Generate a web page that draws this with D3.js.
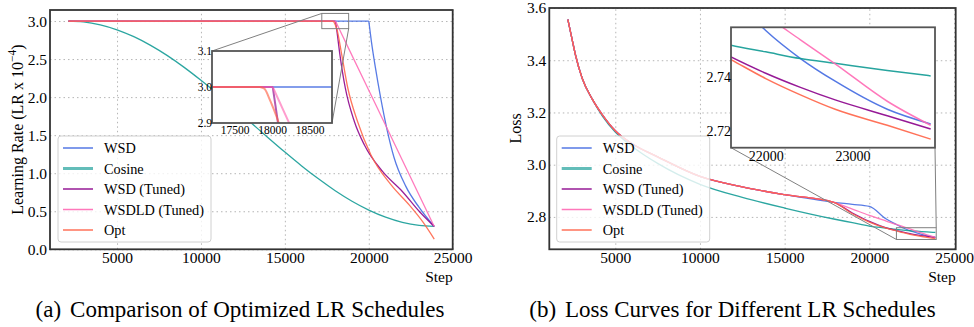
<!DOCTYPE html>
<html>
<head>
<meta charset="utf-8">
<script src="https://cdn.jsdelivr.net/npm/d3@7"></script>
<style>
  body { margin: 0; background: #fff; }
  svg text { font-family: "Liberation Serif", "Times New Roman", serif !important; fill: #000; }
  .grid line { stroke: #b5b5b5; stroke-dasharray: 1.5 3; }
  .grid .domain { display: none; }
</style>
</head>
<body>
<svg id="fig" width="974" height="327"></svg>
<script>
// ---- data ----
const seriesNames = ["WSD", "Cosine", "WSD (Tuned)", "WSDLD (Tuned)", "Opt"];
const seriesColors = ["#4169e1", "#0f9a94", "#8b008b", "#ff69b4", "#ff6347"];

// learning rate (x 1e-4) vs step
const wsdLrSteps = [2100, 20000, 20150, 20400, 20700, 21100, 21500, 22200, 23000, 23900];
const wsdLr      = [3.0, 3.0, 2.74, 2.38, 2.00, 1.56, 1.21, 0.83, 0.55, 0.30];
const cosLrSteps = [2100, 3000, 4000, 5000, 6000, 7000, 8000, 9000, 10000, 11000, 12000, 13000,
                    14000, 15000, 16000, 17000, 18000, 19000, 20000, 21000, 22000, 23000, 23900];
const cosLr      = [3.000, 2.989, 2.950, 2.885, 2.794, 2.680, 2.545, 2.391, 2.221, 2.041, 1.852, 1.660,
                    1.467, 1.278, 1.096, 0.926, 0.770, 0.632, 0.516, 0.423, 0.355, 0.314, 0.300];
const tunedLrSteps = [2100, 18010, 18080, 18280, 18600, 19140, 19740, 20830, 22000, 23000, 23900];
const tunedLr      = [3.0, 3.0, 2.9, 2.556, 2.12, 1.68, 1.37, 1.02, 0.76, 0.50, 0.30];
const wsdldLrSteps = [2100, 18010, 18220, 20000, 22000, 23900];
const wsdldLr      = [3.0, 3.0, 2.904, 2.09, 1.17, 0.30];
const optLrSteps = [2100, 17840, 17900, 17960, 18020, 18090, 18390, 18750, 19330, 20130, 21330, 22420, 23220, 23900];
const optLr      = [3.0, 3.0, 2.995, 2.97, 2.94, 2.9, 2.556, 2.12, 1.68, 1.24, 0.846, 0.58, 0.36, 0.135];

// loss vs step
const lossSteps = [2200, 2450, 2650, 3050, 3650, 4250, 5000, 6000, 7500, 10000, 12500, 15000,
                   17900, 19000, 20000, 21000, 21600, 22000, 22400, 22800, 23400, 23900];
const wsdLoss   = [3.556, 3.48, 3.42, 3.33, 3.25, 3.19, 3.13, 3.08, 3.03, 2.955, 2.915, 2.885,
                   2.856, 2.848, 2.840, 2.792, 2.771, 2.7575, 2.747, 2.7385, 2.728, 2.7225];
const cosLoss   = [3.556, 3.48, 3.42, 3.33, 3.25, 3.185, 3.125, 3.07, 3.005, 2.925, 2.875, 2.834,
                   2.792, 2.778, 2.765, 2.757, 2.752, 2.7495, 2.747, 2.7452, 2.7425, 2.7405];
const tunedLoss = [3.556, 3.48, 3.42, 3.33, 3.25, 3.19, 3.13, 3.08, 3.03, 2.955, 2.915, 2.885,
                   2.856, 2.815, 2.783, 2.758, 2.7476, 2.7415, 2.7362, 2.7315, 2.7256, 2.7206];
const wsdldLoss = [3.556, 3.48, 3.42, 3.33, 3.25, 3.19, 3.13, 3.08, 3.03, 2.955, 2.915, 2.885,
                   2.856, 2.830, 2.806, 2.784, 2.771, 2.763, 2.754, 2.745, 2.731, 2.722];
const optLoss   = [3.556, 3.48, 3.42, 3.33, 3.25, 3.19, 3.13, 3.08, 3.03, 2.955, 2.915, 2.885,
                   2.856, 2.812, 2.780, 2.757, 2.7466, 2.7395, 2.7334, 2.728, 2.722, 2.7168];

// ticks
const stepTicks = [5000, 10000, 15000, 20000, 25000];
const lrTicks = [0, 0.5, 1.0, 1.5, 2.0, 2.5, 3.0];
const lossTicks = [2.8, 3.0, 3.2, 3.4, 3.6];
const lrInsetXTicks = [17500, 18000, 18500];
const lrInsetYTicks = [2.9, 3.0, 3.1];
const lossInsetXTicks = [22000, 23000];
const lossInsetYTicks = [2.72, 2.74];

const lrSets = [
  {steps: wsdLrSteps, vals: wsdLr}, {steps: cosLrSteps, vals: cosLr},
  {steps: tunedLrSteps, vals: tunedLr}, {steps: wsdldLrSteps, vals: wsdldLr},
  {steps: optLrSteps, vals: optLr}
];
const lossSets = [wsdLoss, cosLoss, tunedLoss, wsdldLoss, optLoss].map(v => ({steps: lossSteps, vals: v}));

// ---- drawing ----
const FONT = '"Liberation Serif", "Times New Roman", serif';
const svg = d3.select("#fig");
let clipId = 0;

function clip(g, w, h) {
  const id = "clip" + (clipId++);
  g.append("clipPath").attr("id", id).append("rect").attr("width", w).attr("height", h);
  return "url(#" + id + ")";
}

function drawLines(g, x, y, sets, lw, op) {
  const line = d3.line().curve(d3.curveMonotoneX);
  sets.forEach((s, i) => {
    const pts = s.steps.map((d, j) => [x(d), y(s.vals[j])]);
    // keep the knee sharp: plateau and decay as separate pieces
    let k = 0;
    while (k + 1 < s.vals.length && s.vals[k + 1] === s.vals[0]) k++;
    const d = k > 0 ? line(pts.slice(0, k + 1)) + line(pts.slice(k)) : line(pts);
    g.append("path").attr("d", d)
      .attr("fill", "none")
      .attr("stroke", seriesColors[i])
      .attr("stroke-opacity", op)
      .attr("stroke-width", lw);
  });
}

function tickText(sel, size) {
  sel.select(".domain").remove();
  sel.attr("font-family", FONT).attr("font-size", size);
  sel.selectAll("text").attr("fill", "#000").style("font-family", FONT);
}

function panel(o) {
  const g = svg.append("g").attr("transform", `translate(${o.left},${o.top})`);
  const w = o.width, h = o.height;
  const x = d3.scaleLinear().domain(o.xDomain).range([0, w]);
  const y = d3.scaleLinear().domain(o.yDomain).range([h, 0]);

  g.append("g").attr("class", "grid").attr("transform", `translate(0,${h})`)
    .call(d3.axisBottom(x).tickValues(stepTicks).tickSize(-h).tickFormat(""));
  g.append("g").attr("class", "grid")
    .call(d3.axisLeft(y).tickValues(o.yTicks).tickSize(-w).tickFormat(""));

  const lines = g.append("g").attr("clip-path", clip(g, w, h));
  drawLines(lines, x, y, o.sets, 1.3, 0.88);

  // tick labels
  g.append("g").attr("transform", `translate(0,${h})`)
    .call(d3.axisBottom(x).tickValues(stepTicks).tickSize(0).tickPadding(3).tickFormat(d3.format("d")))
    .call(tickText, 15.5);
  g.append("g")
    .call(d3.axisLeft(y).tickValues(o.yTicks).tickSize(0).tickPadding(o.yPad).tickFormat(d3.format(o.yFmt)))
    .call(tickText, 15.5);

  g.append("text").attr("x", w).attr("y", 282 - o.top)
    .attr("text-anchor", "end").attr("font-size", 15.5).text("Step");

  // zoomed region + connectors
  const ins = o.inset;
  const zx0 = x(ins.xDomain[0]), zx1 = x(ins.xDomain[1]);
  const zyT = y(ins.yDomain[1]), zyB = y(ins.yDomain[0]);
  g.append("rect").attr("x", zx0).attr("y", zyT).attr("width", zx1 - zx0).attr("height", zyB - zyT)
    .attr("fill", "none").attr("stroke", "#808080").attr("stroke-width", 1);
  const corner = {
    tl: [[ins.x, ins.y], [zx0, zyT]], br: [[ins.x + ins.w, ins.y + ins.h], [zx1, zyB]],
    bl: [[ins.x, ins.y + ins.h], [zx0, zyB]], tr: [[ins.x + ins.w, ins.y], [zx1, zyT]]
  };
  ins.links.forEach(([a, b]) => {
    g.append("line")
      .attr("x1", corner[a][0][0]).attr("y1", corner[a][0][1])
      .attr("x2", corner[b][1][0]).attr("y2", corner[b][1][1])
      .attr("stroke", "#808080").attr("stroke-width", 1);
  });

  // legend
  const lg = g.append("g").attr("transform", `translate(${o.legend[0]},${o.legend[1]})`);
  lg.append("rect").attr("width", 153).attr("height", 106).attr("rx", 3)
    .attr("fill", "#fff").attr("fill-opacity", 0.8).attr("stroke", "#d0d0d0");
  seriesNames.forEach((n, i) => {
    const cy = 12 + i * 20.5;
    lg.append("line").attr("x1", 5).attr("x2", 35).attr("y1", cy).attr("y2", cy)
      .attr("stroke", seriesColors[i]).attr("stroke-opacity", i === 1 ? 0.65 : 0.9)
      .attr("stroke-width", i === 1 ? 3 : 1.5);
    lg.append("text").attr("x", 46).attr("y", cy + 5).attr("font-size", 14.3).text(n);
  });

  // inset axes
  const ig = g.append("g").attr("transform", `translate(${ins.x},${ins.y})`);
  const ix = d3.scaleLinear().domain(ins.xDomain).range([0, ins.w]);
  const iy = d3.scaleLinear().domain(ins.yDomain).range([ins.h, 0]);
  ig.append("rect").attr("width", ins.w).attr("height", ins.h).attr("fill", "#fff");
  const il = ig.append("g").attr("clip-path", clip(ig, ins.w, ins.h));
  drawLines(il, ix, iy, o.sets, ins.lw, ins.op);
  ig.append("rect").attr("width", ins.w).attr("height", ins.h)
    .attr("fill", "none").attr("stroke", "#555").attr("stroke-width", 1.8);
  ig.append("g").attr("transform", `translate(0,${ins.h})`)
    .call(d3.axisBottom(ix).tickValues(ins.xTicks).tickSize(0).tickPadding(3).tickFormat(d3.format("d")))
    .call(tickText, ins.fs);
  ig.append("g")
    .call(d3.axisLeft(iy).tickValues(ins.yTicks).tickSize(0).tickPadding(0).tickFormat(d3.format(ins.yFmt)))
    .call(tickText, ins.fs);

  // frame
  g.append("rect").attr("width", w).attr("height", h)
    .attr("fill", "none").attr("stroke", "#333").attr("stroke-width", 1.8);
  return g;
}

panel({
  left: 50, top: 10, width: 402.7, height: 239.3,
  xDomain: [1005, 25000], yDomain: [0, 3.145],
  yTicks: lrTicks, yFmt: ".1f", yPad: 3, sets: lrSets,
  legend: [8, 126],
  inset: {x: 162, y: 41, w: 120, h: 72, xDomain: [17200, 18800], yDomain: [2.9, 3.1],
          xTicks: lrInsetXTicks, yTicks: lrInsetYTicks, yFmt: ".1f", fs: 11.5, lw: 2, op: 0.65,
          links: [["tl", "tl"], ["br", "br"]]}
});

panel({
  left: 549.3, top: 8, width: 406.4, height: 241.3,
  xDomain: [1104, 25100], yDomain: [2.676, 3.6],
  yTicks: lossTicks, yFmt: ".1f", yPad: 3, sets: lossSets,
  legend: [7.4, 128],
  inset: {x: 181.7, y: 19.3, w: 204, h: 120.4, xDomain: [21600, 23950], yDomain: [2.7136, 2.7587],
          xTicks: lossInsetXTicks, yTicks: lossInsetYTicks, yFmt: ".2f", fs: 14, lw: 1.5, op: 0.9,
          links: [["bl", "bl"], ["br", "tr"]]}
});

// axis titles
const yl = svg.append("text").attr("transform", "translate(23,129.6) rotate(-90)")
  .attr("text-anchor", "middle").attr("font-size", 16);
yl.append("tspan").text("Learning Rate (LR x 10");
yl.append("tspan").attr("font-size", 11.5).attr("dy", -7).text("\u22124");
yl.append("tspan").attr("dy", 7).text(")");
svg.append("text").attr("transform", "translate(521,128.5) rotate(-90)")
  .attr("text-anchor", "middle").attr("font-size", 16).text("Loss");

// captions
const captions = [["(a)", "Comparison of Optimized LR Schedules", 240], ["(b)", "Loss Curves for Different LR Schedules", 732.5]];
captions.forEach(([tag, txt, cx]) => {
  const t = svg.append("text").attr("x", cx).attr("y", 316.5).attr("text-anchor", "middle").attr("font-size", 23);
  t.append("tspan").text(tag);
  t.append("tspan").attr("dx", 9).text(txt);
});
</script>
</body>
</html>
